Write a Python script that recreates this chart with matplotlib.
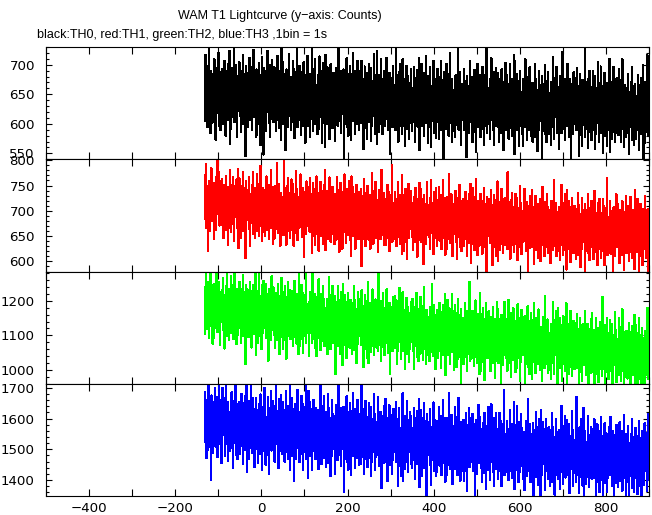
import numpy as np
import matplotlib.pyplot as plt
from matplotlib.ticker import MultipleLocator

# header text in a Helvetica-like face, tick numbers in DejaVu
plt.rcParams['font.family'] = ['Liberation Sans', 'DejaVu Sans']

# WAM T1 counts per 1 s bin, first bin at t = -132 s
t0 = -132

th0 = [
    655, 605, 716, 631, 680, 640, 698, 594, 663, 623, 733, 615, 668, 645, 584, 690, 636, 672, 602, 653,
    626, 685, 644, 709, 608, 664, 573, 677, 652, 618, 695, 632, 720, 597, 660, 647, 688, 589, 671, 647,
    692, 635, 599, 671, 652, 614, 707, 641, 679, 580, 662, 689, 627, 647, 702, 606, 667, 620, 723, 566,
    638, 678, 591, 695, 628, 655, 683, 611, 740, 633, 603, 673, 644, 700, 620, 660, 577, 681, 647, 622,
    667, 704, 614, 635, 690, 586, 656, 674, 600, 717, 622, 645, 685, 605, 662, 546, 698, 654, 678, 622,
    595, 661, 686, 618, 712, 642, 606, 669, 630, 696, 589, 682, 653, 624, 725, 611, 658, 635, 691, 578,
    642, 692, 581, 666, 617, 657, 599, 703, 634, 674, 564, 682, 629, 652, 713, 607, 661, 548, 695, 644,
    671, 612, 653, 588, 689, 633, 724, 620, 645, 679, 602, 665, 577, 700, 637, 650, 609, 708, 626, 650,
    603, 660, 696, 624, 643, 681, 588, 654, 616, 715, 633, 606, 668, 648, 593, 689, 628, 675, 572, 729,
    657, 617, 704, 600, 667, 640, 612, 684, 555, 662, 692, 622, 651, 595, 675, 635, 718, 614, 648, 673,
    626, 589, 679, 658, 603, 707, 637, 619, 693, 576, 671, 648, 608, 688, 631, 747, 595, 639, 615, 671,
    698, 632, 607, 675, 581, 651, 687, 624, 663, 597, 704, 611, 640, 669, 568, 682, 635, 658, 602, 715,
    647, 596, 666, 630, 684, 578, 639, 662, 609, 727, 617, 657, 588, 692, 634, 674, 625, 710, 599, 649,
    641, 665, 583, 682, 641, 654, 591, 714, 626, 689, 612, 646, 671, 567, 658, 602, 703, 638, 679, 620,
    560, 717, 614, 661, 600, 696, 641, 621, 683, 656, 574, 673, 635, 701, 608, 646, 665, 593, 629, 686,
    616, 641, 675, 571, 654, 614, 694, 638, 667, 597, 627, 734, 605, 677, 649, 622, 689, 585, 672, 632,
    616, 672, 648, 692, 540, 656, 599, 679, 639, 616, 711, 594, 668, 650, 580, 684, 629, 608, 698, 661,
    572, 685, 629, 652, 605, 719, 618, 647, 676, 583, 690, 624, 663, 600, 636, 706, 612, 680, 655, 589,
    638, 689, 619, 655, 601, 707, 646, 623, 676, 558, 668, 628, 697, 593, 651, 611, 660, 575, 686, 636,
    644, 620, 702, 603, 644, 631, 694, 571, 659, 596, 673, 639, 614, 718, 627, 683, 582, 647, 606, 665,
    723, 566, 669, 622, 683, 587, 642, 662, 600, 627, 709, 610, 648, 582, 675, 637, 618, 690, 654, 597,
    667, 642, 608, 712, 629, 669, 589, 645, 616, 686, 656, 549, 678, 606, 634, 661, 594, 698, 611, 651,
    665, 609, 633, 589, 741, 625, 682, 602, 642, 665, 570, 687, 613, 631, 701, 597, 652, 673, 583, 620,
    709, 596, 652, 629, 676, 562, 663, 634, 605, 698, 591, 657, 618, 681, 645, 575, 669, 601, 626, 692,
    681, 624, 588, 660, 641, 603, 696, 630, 668, 569, 651, 678, 616, 636, 691, 595, 656, 609, 712, 555,
    585, 651, 676, 608, 702, 632, 596, 659, 620, 686, 579, 672, 643, 614, 715, 601, 648, 625, 681, 568,
    613, 672, 631, 696, 595, 651, 560, 664, 639, 605, 682, 619, 707, 584, 647, 634, 675, 576, 658, 634,
    656, 693, 603, 624, 679, 575, 645, 663, 589, 706, 611, 634, 674, 594, 651, 535, 687, 643, 667, 611,
    641, 591, 702, 617, 666, 626, 684, 580, 649, 609, 719, 601, 654, 631, 570, 676, 622, 658, 588, 639,
    625, 665, 578, 682, 615, 642, 670, 598, 727, 620, 590, 660, 631, 687, 607, 647, 564, 668, 634, 609,
    646, 606, 693, 589, 656, 629, 601, 673, 544, 651, 681, 611, 640, 584, 664, 624, 707, 603, 637, 662,
    630, 680, 569, 654, 605, 645, 587, 691, 622, 662, 552, 670, 617, 640, 701, 595, 649, 613, 683, 632,
    615, 578, 668, 647, 592, 696, 626, 608, 682, 565, 660, 637, 597, 677, 620, 736, 584, 628, 604, 660,
    658, 599, 640, 575, 676, 620, 711, 607, 632, 666, 589, 652, 564, 687, 624, 637, 596, 695, 613, 637,
    686, 620, 595, 663, 569, 639, 675, 612, 651, 585, 692, 599, 628, 657, 556, 670, 623, 646, 590, 703,
    590, 647, 683, 611, 630, 668, 575, 641, 603, 702, 620, 593, 655, 635, 580, 676, 615, 662, 559, 716,
    549, 706, 603, 650, 589, 685, 630, 610, 672, 645, 563, 662, 624, 690, 597, 635, 654, 582, 618, 675,
    562, 675, 619, 642, 595, 709, 608, 637, 666, 573, 680, 614, 653, 590, 626, 696, 602, 670, 645, 579,
    628, 652, 570, 669, 628, 641, 578, 701, 613, 676, 599, 633, 658, 554, 645, 589, 690, 625, 666, 607,
    605, 661, 637, 681, 529, 645, 588, 668, 628, 605, 700, 583, 657, 639, 569, 673, 618, 597, 687, 650,
    633, 582, 652, 616, 670, 564, 625, 648, 595, 713, 603, 643, 574, 678, 620, 660, 611, 696, 585, 635,
    603, 628, 662, 558, 641, 601, 681, 625, 654, 584, 614, 721, 592, 664, 636, 609, 676, 572, 659, 619,
    656, 631, 597, 701, 618, 658, 578, 634, 605, 675, 645, 538, 667, 595, 623, 650, 583, 687, 600, 640,
    626, 677, 607, 643, 589, 695, 634, 611, 664, 546, 656, 616, 685, 581, 639, 599, 648, 563, 674, 624,
    654, 598, 622, 578, 730, 614, 671, 591, 631, 654, 559, 676, 602, 620, 690, 586, 641, 662, 572, 609,
    631, 607, 689, 590, 631, 618, 681, 558, 646, 583, 660, 626, 601, 705, 614, 670, 569, 634, 593, 652,
    697, 584, 640, 617, 664, 550, 651, 622, 593, 686, 579, 645, 606, 669, 633, 563, 657, 589, 614, 680,
    710, 553, 656, 609, 670, 574, 629, 649, 587, 614, 696, 597, 635, 569, 662, 624, 605, 677, 641, 584,
    631, 581, 692, 607, 656, 616, 674, 570, 639, 599, 709, 591, 644, 621, 560, 666, 612, 648, 578, 629,
    602, 661, 620, 685, 584, 640, 549, 653, 628, 594, 671, 608, 696, 573, 636, 623, 664, 565, 647, 623,
    668, 611, 575, 647, 628, 590, 683, 617, 655, 556, 638, 665, 603, 623, 678, 582, 643, 596, 699, 542,
    614, 654, 567, 671, 604, 631, 659, 587, 716, 609, 579, 649, 620, 676, 596, 636, 553, 657, 623, 598,
]

th1 = [
    723, 683, 770, 666, 792, 706, 678, 750, 621, 728, 758, 688, 717, 661, 741, 701, 784, 680, 714, 739,
    706, 756, 645, 730, 681, 721, 663, 767, 698, 738, 808, 746, 693, 716, 777, 671, 725, 689, 759, 708,
    763, 697, 672, 740, 646, 716, 752, 689, 728, 662, 769, 676, 705, 734, 633, 747, 700, 723, 667, 780,
    752, 695, 659, 731, 712, 674, 767, 701, 739, 640, 722, 749, 687, 707, 762, 666, 727, 680, 783, 626,
    727, 764, 674, 695, 750, 646, 716, 734, 660, 777, 682, 705, 745, 665, 722, 606, 758, 714, 738, 682,
    683, 742, 701, 766, 665, 721, 630, 734, 709, 675, 752, 689, 777, 654, 717, 704, 745, 646, 728, 704,
    711, 661, 772, 687, 736, 696, 754, 650, 719, 679, 789, 671, 724, 701, 640, 746, 692, 728, 658, 709,
    651, 717, 742, 674, 768, 698, 662, 725, 686, 752, 645, 738, 709, 680, 781, 667, 714, 691, 747, 634,
    692, 732, 645, 749, 682, 709, 737, 665, 794, 687, 657, 727, 698, 754, 674, 714, 631, 735, 701, 676,
    728, 672, 696, 652, 804, 688, 745, 665, 705, 728, 633, 750, 676, 694, 764, 660, 715, 736, 646, 683,
    704, 680, 762, 663, 704, 691, 754, 631, 719, 656, 733, 699, 674, 778, 687, 743, 642, 707, 666, 725,
    727, 702, 668, 772, 689, 729, 649, 705, 676, 746, 716, 609, 738, 666, 694, 721, 654, 758, 671, 711,
    696, 747, 677, 713, 659, 765, 704, 681, 734, 616, 726, 686, 755, 651, 709, 669, 718, 633, 744, 694,
    768, 655, 711, 688, 735, 621, 722, 693, 664, 757, 650, 716, 677, 740, 704, 634, 728, 660, 685, 751,
    780, 623, 726, 679, 740, 644, 699, 719, 657, 684, 766, 667, 705, 639, 732, 694, 675, 747, 711, 654,
    693, 717, 635, 734, 693, 706, 643, 766, 678, 741, 664, 698, 723, 619, 710, 654, 755, 690, 731, 672,
    625, 738, 682, 705, 658, 772, 671, 700, 729, 636, 743, 677, 716, 653, 689, 759, 665, 733, 708, 642,
    611, 768, 665, 712, 651, 747, 692, 672, 734, 707, 625, 724, 686, 752, 659, 697, 716, 644, 680, 737,
    667, 723, 699, 743, 591, 707, 650, 730, 690, 667, 762, 645, 719, 701, 631, 735, 680, 659, 749, 712,
    694, 643, 713, 677, 731, 625, 686, 709, 656, 774, 664, 704, 635, 739, 681, 721, 672, 757, 646, 696,
    663, 688, 722, 618, 701, 661, 741, 685, 714, 644, 674, 781, 652, 724, 696, 669, 736, 632, 719, 679,
    670, 633, 723, 702, 647, 751, 681, 663, 737, 620, 715, 692, 652, 732, 675, 791, 639, 683, 659, 715,
    645, 702, 738, 666, 685, 723, 630, 696, 658, 757, 675, 648, 710, 690, 635, 731, 670, 717, 614, 771,
    682, 732, 621, 706, 657, 697, 639, 743, 674, 714, 604, 722, 669, 692, 753, 647, 701, 665, 735, 684,
    739, 673, 648, 716, 622, 692, 728, 665, 704, 638, 745, 652, 681, 710, 609, 723, 676, 699, 643, 756,
    696, 656, 743, 639, 706, 679, 651, 723, 594, 701, 731, 661, 690, 634, 714, 674, 757, 653, 687, 712,
    708, 649, 690, 625, 726, 670, 761, 657, 682, 716, 639, 702, 614, 737, 674, 687, 646, 745, 663, 687,
    630, 696, 721, 653, 747, 677, 641, 704, 665, 731, 624, 717, 688, 659, 760, 646, 693, 670, 726, 613,
    671, 711, 624, 728, 661, 688, 716, 644, 773, 666, 636, 706, 677, 733, 653, 693, 610, 714, 680, 655,
    657, 716, 675, 740, 639, 695, 604, 708, 683, 649, 726, 663, 751, 628, 691, 678, 719, 620, 702, 678,
    723, 666, 630, 702, 683, 645, 738, 672, 710, 611, 693, 720, 658, 678, 733, 637, 698, 651, 754, 597,
    684, 634, 745, 660, 709, 669, 727, 623, 692, 652, 762, 644, 697, 674, 613, 719, 665, 701, 631, 682,
    696, 733, 643, 664, 719, 615, 685, 703, 629, 746, 651, 674, 714, 634, 691, 575, 727, 683, 707, 651,
    673, 724, 654, 690, 636, 742, 681, 658, 711, 593, 703, 663, 732, 628, 686, 646, 695, 610, 721, 671,
    758, 601, 704, 657, 718, 622, 677, 697, 635, 662, 744, 645, 683, 617, 710, 672, 653, 725, 689, 632,
    700, 644, 668, 624, 776, 660, 717, 637, 677, 700, 605, 722, 648, 666, 736, 632, 687, 708, 618, 655,
    676, 652, 734, 635, 676, 663, 726, 603, 691, 628, 705, 671, 646, 750, 659, 715, 614, 679, 638, 697,
    699, 674, 640, 744, 661, 701, 621, 677, 648, 718, 688, 581, 710, 638, 666, 693, 626, 730, 643, 683,
    741, 628, 684, 661, 708, 594, 695, 666, 637, 730, 623, 689, 650, 713, 677, 607, 701, 633, 658, 724,
    600, 713, 657, 680, 633, 747, 646, 675, 704, 611, 718, 652, 691, 628, 664, 734, 640, 708, 683, 617,
    642, 667, 701, 597, 680, 640, 720, 664, 693, 623, 653, 760, 631, 703, 675, 648, 715, 611, 698, 658,
    671, 620, 690, 654, 708, 602, 663, 686, 633, 751, 641, 681, 612, 716, 658, 698, 649, 734, 623, 673,
    584, 741, 638, 685, 624, 720, 665, 645, 707, 680, 598, 697, 659, 725, 632, 670, 689, 617, 653, 710,
    663, 687, 605, 704, 663, 676, 613, 736, 648, 711, 634, 668, 693, 589, 680, 624, 725, 660, 701, 642,
    638, 694, 670, 714, 562, 678, 621, 701, 661, 638, 733, 616, 690, 672, 602, 706, 651, 630, 720, 683,
    687, 628, 669, 604, 705, 649, 740, 636, 661, 695, 618, 681, 593, 716, 653, 666, 625, 724, 642, 666,
    643, 606, 696, 675, 620, 724, 654, 636, 710, 593, 688, 665, 625, 705, 648, 764, 612, 656, 632, 688,
    672, 632, 719, 615, 682, 655, 627, 699, 570, 677, 707, 637, 666, 610, 690, 650, 733, 629, 663, 688,
    713, 647, 622, 690, 596, 666, 702, 639, 678, 612, 719, 626, 655, 684, 583, 697, 650, 673, 617, 730,
    616, 673, 709, 637, 656, 694, 601, 667, 629, 728, 646, 619, 681, 661, 606, 702, 641, 688, 585, 742,
    655, 706, 636, 672, 618, 724, 663, 640, 693, 575, 685, 645, 714, 610, 668, 628, 677, 592, 703, 653,
    684, 659, 625, 729, 646, 686, 606, 662, 633, 703, 673, 566, 695, 623, 651, 678, 611, 715, 628, 668,
]

th2 = [
    1103, 1201, 1240, 1136, 1278, 1172, 1120, 1213, 1156, 1254, 1093, 1232, 1189, 1146, 1297, 1127, 1196, 1163, 1247, 1076,
    1162, 1222, 1093, 1249, 1148, 1189, 1229, 1121, 1316, 1155, 1109, 1215, 1172, 1256, 1136, 1196, 1071, 1227, 1177, 1138,
    1141, 1230, 1167, 1266, 1115, 1199, 1062, 1218, 1179, 1129, 1244, 1151, 1283, 1098, 1191, 1172, 1235, 1086, 1208, 1172,
    1181, 1107, 1272, 1145, 1220, 1160, 1246, 1090, 1193, 1133, 1299, 1121, 1200, 1167, 1076, 1234, 1152, 1208, 1102, 1179,
    1200, 1255, 1121, 1152, 1233, 1077, 1183, 1209, 1099, 1274, 1133, 1166, 1226, 1106, 1193, 1017, 1245, 1181, 1217, 1133,
    1233, 1146, 1094, 1202, 1173, 1115, 1254, 1156, 1214, 1065, 1187, 1228, 1134, 1166, 1247, 1103, 1194, 1125, 1278, 1043,
    1202, 1113, 1176, 1077, 1228, 1144, 1281, 1125, 1164, 1214, 1099, 1192, 1060, 1245, 1152, 1171, 1108, 1257, 1135, 1171,
    1180, 1120, 1249, 1093, 1194, 1153, 1113, 1221, 1026, 1187, 1233, 1127, 1170, 1086, 1206, 1146, 1271, 1115, 1165, 1204,
    1239, 1141, 1102, 1206, 1064, 1170, 1222, 1129, 1186, 1088, 1249, 1110, 1153, 1196, 1045, 1215, 1146, 1179, 1095, 1266,
    1151, 1225, 1060, 1187, 1112, 1172, 1086, 1242, 1139, 1199, 1033, 1211, 1132, 1165, 1256, 1098, 1180, 1124, 1230, 1153,
    1090, 1177, 1229, 1121, 1150, 1208, 1069, 1167, 1109, 1258, 1136, 1095, 1189, 1157, 1076, 1220, 1129, 1198, 1045, 1280,
    1123, 1068, 1202, 1171, 1090, 1246, 1140, 1114, 1224, 1049, 1190, 1157, 1097, 1217, 1130, 1306, 1078, 1142, 1106, 1190,
    1108, 1147, 1197, 1041, 1166, 1106, 1226, 1142, 1185, 1079, 1125, 1286, 1091, 1199, 1159, 1118, 1219, 1063, 1192, 1132,
    1041, 1212, 1128, 1161, 1092, 1262, 1111, 1154, 1197, 1058, 1219, 1121, 1178, 1085, 1137, 1243, 1101, 1205, 1166, 1068,
    1149, 1072, 1178, 1122, 1204, 1046, 1137, 1170, 1091, 1269, 1103, 1163, 1060, 1216, 1130, 1190, 1115, 1242, 1077, 1151,
    1103, 1187, 1151, 1215, 987, 1163, 1076, 1196, 1136, 1103, 1244, 1069, 1179, 1153, 1047, 1203, 1122, 1091, 1225, 1170,
    1013, 1248, 1095, 1164, 1073, 1217, 1136, 1104, 1198, 1157, 1035, 1184, 1126, 1224, 1085, 1143, 1172, 1064, 1116, 1203,
    1131, 1167, 1045, 1194, 1131, 1150, 1057, 1242, 1110, 1203, 1088, 1138, 1177, 1021, 1158, 1074, 1225, 1126, 1189, 1100,
    1128, 1205, 1099, 1155, 1073, 1231, 1140, 1107, 1186, 1008, 1174, 1114, 1217, 1061, 1147, 1087, 1162, 1035, 1200, 1126,
    1255, 1020, 1173, 1104, 1195, 1051, 1132, 1164, 1070, 1111, 1233, 1084, 1142, 1044, 1183, 1125, 1096, 1204, 1152, 1065,
    1166, 1082, 1118, 1054, 1282, 1106, 1193, 1073, 1133, 1166, 1025, 1200, 1090, 1116, 1222, 1066, 1147, 1178, 1044, 1099,
    1166, 1127, 1077, 1233, 1108, 1168, 1048, 1132, 1089, 1195, 1149, 988, 1183, 1075, 1115, 1156, 1055, 1211, 1082, 1142,
    1127, 1091, 1213, 1064, 1127, 1108, 1201, 1016, 1148, 1055, 1170, 1120, 1081, 1237, 1100, 1184, 1033, 1132, 1069, 1158,
    1225, 1054, 1138, 1105, 1174, 1004, 1155, 1112, 1069, 1208, 1047, 1145, 1088, 1181, 1129, 1023, 1165, 1061, 1100, 1198,
    1081, 1170, 1107, 1206, 1055, 1139, 1002, 1158, 1119, 1069, 1184, 1091, 1223, 1038, 1131, 1112, 1175, 1026, 1148, 1112,
    1121, 1047, 1212, 1085, 1160, 1100, 1186, 1030, 1133, 1073, 1239, 1061, 1140, 1107, 1016, 1174, 1092, 1148, 1042, 1119,
    1094, 1154, 1025, 1181, 1080, 1121, 1161, 1053, 1248, 1087, 1041, 1147, 1104, 1188, 1068, 1128, 1003, 1159, 1109, 1070,
    1174, 1087, 1035, 1143, 1114, 1056, 1195, 1097, 1155, 1006, 1128, 1169, 1075, 1107, 1188, 1044, 1135, 1066, 1219, 984,
    1027, 1125, 1164, 1060, 1202, 1096, 1044, 1137, 1080, 1178, 1017, 1156, 1113, 1070, 1221, 1051, 1120, 1087, 1171, 1000,
    1132, 1187, 1053, 1084, 1165, 1009, 1115, 1141, 1031, 1206, 1065, 1098, 1158, 1038, 1125, 949, 1177, 1113, 1149, 1065,
    1071, 1016, 1150, 1119, 1038, 1194, 1088, 1062, 1172, 997, 1138, 1105, 1045, 1165, 1078, 1254, 1026, 1090, 1054, 1138,
    1033, 1120, 1172, 1064, 1093, 1151, 1012, 1110, 1052, 1201, 1079, 1038, 1132, 1100, 1019, 1163, 1072, 1141, 988, 1223,
    1088, 1162, 997, 1124, 1049, 1109, 1023, 1179, 1076, 1136, 970, 1148, 1069, 1102, 1193, 1035, 1117, 1061, 1167, 1090,
    1171, 1073, 1034, 1138, 996, 1102, 1154, 1061, 1118, 1020, 1181, 1042, 1085, 1128, 977, 1147, 1078, 1111, 1027, 1198,
    1107, 1047, 1176, 1020, 1121, 1080, 1040, 1148, 953, 1114, 1160, 1054, 1097, 1013, 1133, 1073, 1198, 1042, 1092, 1131,
    1123, 1034, 1097, 998, 1149, 1065, 1202, 1046, 1085, 1135, 1020, 1113, 981, 1166, 1073, 1092, 1029, 1178, 1056, 1092,
    1079, 1115, 993, 1142, 1079, 1098, 1005, 1190, 1058, 1151, 1036, 1086, 1125, 969, 1106, 1022, 1173, 1074, 1137, 1048,
    1043, 1127, 1091, 1155, 927, 1103, 1016, 1136, 1076, 1043, 1184, 1009, 1119, 1093, 987, 1143, 1062, 1031, 1165, 1110,
    973, 1144, 1060, 1093, 1024, 1194, 1043, 1086, 1129, 990, 1151, 1053, 1110, 1017, 1069, 1175, 1033, 1137, 1098, 1000,
    1035, 1074, 1124, 968, 1093, 1033, 1153, 1069, 1112, 1006, 1052, 1213, 1018, 1126, 1086, 1045, 1146, 990, 1119, 1059,
    1078, 1001, 1107, 1051, 1133, 975, 1066, 1099, 1020, 1198, 1032, 1092, 989, 1145, 1059, 1119, 1044, 1171, 1006, 1080,
    945, 1180, 1027, 1096, 1005, 1149, 1068, 1036, 1130, 1089, 967, 1116, 1058, 1156, 1017, 1075, 1104, 996, 1048, 1135,
    1193, 958, 1111, 1042, 1133, 989, 1070, 1102, 1008, 1049, 1171, 1022, 1080, 982, 1121, 1063, 1034, 1142, 1090, 1003,
    1060, 1137, 1031, 1087, 1005, 1163, 1072, 1039, 1118, 940, 1106, 1046, 1149, 993, 1079, 1019, 1094, 967, 1132, 1058,
    1103, 1064, 1014, 1170, 1045, 1105, 985, 1069, 1026, 1132, 1086, 925, 1120, 1012, 1052, 1093, 992, 1148, 1019, 1079,
    1166, 995, 1079, 1046, 1115, 945, 1096, 1053, 1010, 1149, 988, 1086, 1029, 1122, 1070, 964, 1106, 1002, 1041, 1139,
    1095, 1011, 1047, 983, 1211, 1035, 1122, 1002, 1062, 1095, 954, 1129, 1019, 1045, 1151, 995, 1076, 1107, 973, 1028,
    1059, 1023, 1145, 996, 1059, 1040, 1133, 948, 1080, 987, 1102, 1052, 1013, 1169, 1032, 1116, 965, 1064, 1001, 1090,
    1058, 984, 1149, 1022, 1097, 1037, 1123, 967, 1070, 1010, 1176, 998, 1077, 1044, 953, 1111, 1029, 1085, 979, 1056,
    1114, 1027, 975, 1083, 1054, 996, 1135, 1037, 1095, 946, 1068, 1109, 1015, 1047, 1128, 984, 1075, 1006, 1159, 924,
    1075, 1130, 996, 1027, 1108, 952, 1058, 1084, 974, 1149, 1008, 1041, 1101, 981, 1068, 892, 1120, 1056, 1092, 1008,
    1026, 1086, 957, 1113, 1012, 1053, 1093, 985, 1180, 1019, 973, 1079, 1036, 1120, 1000, 1060, 935, 1091, 1041, 1002,
]

th3 = [
    1620, 1687, 1524, 1562, 1660, 1472, 1600, 1631, 1498, 1710, 1539, 1579, 1652, 1507, 1611, 1399, 1675, 1597, 1640, 1539,
    1487, 1606, 1653, 1528, 1699, 1571, 1508, 1621, 1551, 1670, 1476, 1644, 1592, 1539, 1722, 1516, 1600, 1560, 1661, 1455,
    1589, 1499, 1699, 1545, 1635, 1563, 1667, 1478, 1603, 1531, 1731, 1516, 1612, 1571, 1461, 1653, 1554, 1621, 1493, 1586,
    1534, 1642, 1566, 1685, 1503, 1604, 1439, 1627, 1581, 1520, 1659, 1546, 1706, 1482, 1595, 1572, 1648, 1468, 1616, 1572,
    1654, 1550, 1486, 1617, 1582, 1512, 1680, 1561, 1631, 1451, 1599, 1649, 1535, 1573, 1672, 1498, 1608, 1524, 1709, 1425,
    1553, 1625, 1469, 1657, 1535, 1585, 1634, 1503, 1738, 1544, 1489, 1617, 1564, 1666, 1521, 1593, 1442, 1631, 1570, 1524,
    1667, 1548, 1501, 1626, 1455, 1583, 1646, 1533, 1603, 1484, 1678, 1510, 1562, 1615, 1432, 1638, 1554, 1594, 1493, 1699,
    1560, 1650, 1450, 1604, 1514, 1586, 1482, 1671, 1546, 1618, 1418, 1633, 1537, 1578, 1688, 1496, 1595, 1528, 1656, 1563,
    1610, 1502, 1578, 1459, 1641, 1540, 1705, 1517, 1563, 1624, 1485, 1598, 1438, 1662, 1549, 1572, 1496, 1676, 1528, 1572,
    1486, 1590, 1654, 1523, 1558, 1628, 1460, 1579, 1509, 1689, 1541, 1491, 1605, 1567, 1468, 1642, 1532, 1616, 1431, 1715,
    1582, 1510, 1666, 1478, 1600, 1550, 1501, 1632, 1397, 1591, 1646, 1518, 1571, 1469, 1614, 1542, 1693, 1504, 1565, 1611,
    1524, 1457, 1620, 1582, 1484, 1672, 1544, 1513, 1646, 1434, 1605, 1565, 1492, 1637, 1533, 1745, 1469, 1547, 1504, 1605,
    1406, 1690, 1505, 1589, 1479, 1653, 1554, 1516, 1630, 1580, 1432, 1612, 1542, 1661, 1493, 1563, 1598, 1467, 1531, 1635,
    1560, 1467, 1595, 1528, 1627, 1435, 1545, 1586, 1490, 1705, 1505, 1577, 1452, 1641, 1537, 1609, 1519, 1673, 1473, 1563,
    1546, 1590, 1442, 1622, 1546, 1569, 1456, 1680, 1520, 1633, 1494, 1555, 1601, 1413, 1578, 1477, 1659, 1540, 1616, 1508,
    1501, 1547, 1608, 1419, 1570, 1498, 1643, 1541, 1594, 1466, 1521, 1715, 1480, 1611, 1562, 1512, 1634, 1446, 1602, 1530,
    1501, 1602, 1559, 1637, 1361, 1573, 1469, 1614, 1541, 1501, 1672, 1460, 1593, 1562, 1434, 1622, 1524, 1486, 1649, 1582,
    1417, 1623, 1522, 1562, 1478, 1684, 1501, 1554, 1606, 1438, 1632, 1513, 1583, 1470, 1533, 1661, 1490, 1615, 1568, 1449,
    1589, 1488, 1531, 1453, 1729, 1517, 1621, 1476, 1549, 1589, 1418, 1630, 1497, 1528, 1656, 1468, 1566, 1604, 1441, 1508,
    1546, 1502, 1650, 1470, 1546, 1523, 1636, 1412, 1572, 1459, 1598, 1537, 1491, 1679, 1514, 1615, 1433, 1552, 1476, 1584,
    1587, 1541, 1480, 1669, 1518, 1590, 1445, 1547, 1494, 1622, 1567, 1373, 1608, 1477, 1526, 1576, 1454, 1642, 1486, 1558,
    1664, 1458, 1559, 1519, 1603, 1397, 1580, 1527, 1475, 1643, 1449, 1568, 1498, 1611, 1548, 1420, 1591, 1466, 1513, 1632,
    1527, 1620, 1492, 1559, 1460, 1652, 1542, 1501, 1597, 1382, 1582, 1510, 1635, 1446, 1550, 1478, 1568, 1414, 1614, 1524,
    1682, 1398, 1583, 1499, 1609, 1435, 1534, 1572, 1458, 1508, 1656, 1476, 1546, 1427, 1595, 1525, 1490, 1621, 1557, 1453,
    1607, 1503, 1439, 1570, 1535, 1465, 1633, 1514, 1584, 1404, 1552, 1602, 1488, 1526, 1625, 1451, 1561, 1477, 1662, 1378,
    1561, 1628, 1465, 1503, 1601, 1413, 1541, 1572, 1439, 1651, 1480, 1520, 1593, 1448, 1552, 1340, 1616, 1538, 1581, 1480,
    1480, 1588, 1512, 1631, 1449, 1550, 1385, 1573, 1527, 1466, 1605, 1492, 1652, 1428, 1541, 1518, 1594, 1414, 1562, 1518,
    1426, 1545, 1592, 1467, 1638, 1510, 1447, 1560, 1490, 1609, 1415, 1583, 1531, 1478, 1661, 1455, 1539, 1499, 1600, 1394,
    1499, 1571, 1415, 1603, 1481, 1531, 1580, 1449, 1684, 1490, 1435, 1563, 1510, 1612, 1467, 1539, 1388, 1577, 1516, 1470,
    1526, 1436, 1636, 1482, 1572, 1500, 1604, 1415, 1540, 1468, 1668, 1453, 1549, 1508, 1398, 1590, 1491, 1558, 1430, 1523,
    1506, 1596, 1396, 1550, 1460, 1532, 1428, 1617, 1492, 1564, 1364, 1579, 1483, 1524, 1634, 1442, 1541, 1474, 1602, 1509,
    1532, 1460, 1616, 1428, 1550, 1500, 1451, 1582, 1347, 1541, 1596, 1468, 1521, 1419, 1564, 1492, 1643, 1454, 1515, 1561,
    1606, 1487, 1440, 1565, 1394, 1522, 1585, 1472, 1542, 1423, 1617, 1449, 1501, 1554, 1371, 1577, 1493, 1533, 1432, 1638,
    1551, 1443, 1519, 1400, 1582, 1481, 1646, 1458, 1504, 1565, 1426, 1539, 1379, 1603, 1490, 1513, 1437, 1617, 1469, 1513,
    1470, 1403, 1566, 1528, 1430, 1618, 1490, 1459, 1592, 1380, 1551, 1511, 1438, 1583, 1479, 1691, 1415, 1493, 1450, 1551,
    1425, 1529, 1593, 1462, 1497, 1567, 1399, 1518, 1448, 1628, 1480, 1430, 1544, 1506, 1407, 1581, 1471, 1555, 1370, 1654,
    1372, 1578, 1477, 1517, 1433, 1639, 1456, 1509, 1561, 1393, 1587, 1468, 1538, 1425, 1488, 1616, 1445, 1570, 1523, 1404,
    1449, 1495, 1556, 1367, 1518, 1446, 1591, 1489, 1542, 1414, 1469, 1663, 1428, 1559, 1510, 1460, 1582, 1394, 1550, 1478,
    1450, 1551, 1508, 1586, 1310, 1522, 1418, 1563, 1490, 1450, 1621, 1409, 1542, 1511, 1383, 1571, 1473, 1435, 1598, 1531,
    1342, 1626, 1441, 1525, 1415, 1589, 1490, 1452, 1566, 1516, 1368, 1548, 1478, 1597, 1429, 1499, 1534, 1403, 1467, 1571,
    1485, 1529, 1381, 1561, 1485, 1508, 1395, 1619, 1459, 1572, 1433, 1494, 1540, 1352, 1517, 1416, 1598, 1479, 1555, 1447,
    1495, 1402, 1530, 1463, 1562, 1370, 1480, 1521, 1425, 1640, 1440, 1512, 1387, 1576, 1472, 1544, 1454, 1608, 1408, 1498,
    1492, 1448, 1596, 1416, 1492, 1469, 1582, 1358, 1518, 1405, 1544, 1483, 1437, 1625, 1460, 1561, 1379, 1498, 1422, 1530,
    1530, 1429, 1472, 1394, 1670, 1458, 1562, 1417, 1490, 1530, 1359, 1571, 1438, 1469, 1597, 1409, 1507, 1545, 1382, 1449,
    1633, 1349, 1534, 1450, 1560, 1386, 1485, 1523, 1409, 1459, 1607, 1427, 1497, 1378, 1546, 1476, 1441, 1572, 1508, 1404,
    1473, 1566, 1438, 1505, 1406, 1598, 1488, 1447, 1543, 1328, 1528, 1456, 1581, 1392, 1496, 1424, 1514, 1360, 1560, 1470,
    1605, 1399, 1500, 1460, 1544, 1338, 1521, 1468, 1416, 1584, 1390, 1509, 1439, 1552, 1489, 1361, 1532, 1407, 1454, 1573,
    1524, 1478, 1417, 1606, 1455, 1527, 1382, 1484, 1431, 1559, 1504, 1310, 1545, 1414, 1463, 1513, 1391, 1579, 1423, 1495,
    1376, 1495, 1542, 1417, 1588, 1460, 1397, 1510, 1440, 1559, 1365, 1533, 1481, 1428, 1611, 1405, 1489, 1449, 1550, 1344,
    1426, 1534, 1458, 1577, 1395, 1496, 1331, 1519, 1473, 1412, 1551, 1438, 1598, 1374, 1487, 1464, 1540, 1360, 1508, 1464,
    1503, 1570, 1407, 1445, 1543, 1355, 1483, 1514, 1381, 1593, 1422, 1462, 1535, 1390, 1494, 1282, 1558, 1480, 1523, 1422,
    1474, 1384, 1584, 1430, 1520, 1448, 1552, 1363, 1488, 1416, 1616, 1401, 1497, 1456, 1346, 1538, 1439, 1506, 1378, 1471,
]

channels = [th0, th1, th2, th3]
colors = ['black', 'red', '#00ff00', 'blue']
ylims = [(540, 730), (580, 802), (960, 1285), (1348, 1713)]
ysteps = [(50, 10), (50, 10), (100, 20), (100, 20)]

fig, axes = plt.subplots(4, 1, sharex=True, figsize=(6.52, 5.15), dpi=100)
fig.subplots_adjust(left=0.0706, right=0.9954, top=0.9087, bottom=0.0369, hspace=0)

for ax, counts, color, ylim, (major, minor) in zip(axes, channels, colors, ylims, ysteps):
    t = t0 + np.arange(len(counts))
    ax.plot(t, counts, color=color, lw=0.75, drawstyle='steps-mid', antialiased=False)
    ax.set_xlim(-500, 900)
    ax.set_ylim(*ylim)
    ax.xaxis.set_major_locator(MultipleLocator(200))
    ax.xaxis.set_minor_locator(MultipleLocator(100))
    ax.yaxis.set_major_locator(MultipleLocator(major))
    ax.yaxis.set_minor_locator(MultipleLocator(minor))
    ax.tick_params(which='both', direction='in', top=True, right=True, width=0.8,
                   labelsize=9.6, labelfontfamily='DejaVu Sans')
    ax.tick_params(axis='x', which='both', length=5, pad=4.5)
    ax.tick_params(axis='y', which='major', length=4.3, pad=8)
    ax.tick_params(axis='y', which='minor', length=2.2)
    for spine in ax.spines.values():
        spine.set_linewidth(0.8)

fig.text(0.429, 1 - 16 / 515, 'WAM T1 Lightcurve (y\u2212axis: Counts)', ha='center', va='center', fontsize=9)
fig.text(37 / 652, 1 - 35 / 515, 'black:TH0, red:TH1, green:TH2, blue:TH3 ,1bin = 1s',
         ha='left', va='center', fontsize=9)

fig.savefig('out.png', dpi=100)
